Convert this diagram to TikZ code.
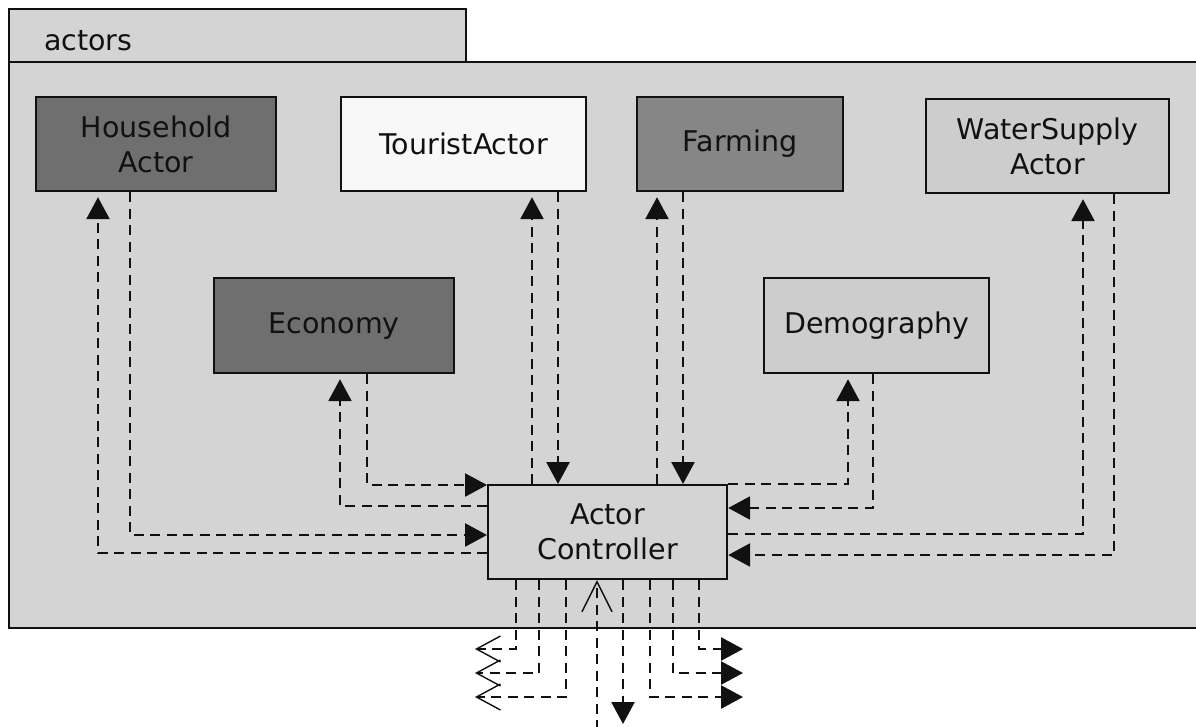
\documentclass[tikz,border=0pt]{standalone}
\usepackage{fontspec}
\setmainfont{DejaVu Sans}
\usetikzlibrary{arrows.meta}
\definecolor{panel}{HTML}{D4D4D4}
\definecolor{darkfill}{HTML}{6F6F6F}
\definecolor{midfill}{HTML}{868686}
\definecolor{lightfill}{HTML}{CDCDCD}
\definecolor{paper}{HTML}{F8F8F8}
\definecolor{ink}{HTML}{111111}
\tikzset{
  actorbox/.style={draw=ink, line width=2.2pt, anchor=north west, align=center,
    font=\fontsize{28.5}{35}\selectfont, text=ink, inner sep=0pt},
  flow/.style={draw=ink, line width=2.6pt, dash pattern=on 10pt off 6.5pt},
  tip/.style={flow, -{Triangle[length=22pt,width=23pt]}},
  opentip/.style={flow, -{Straight Barb[length=24pt,width=26pt,line width=1.4pt]}},
  gap/.style={shorten >=5pt}
}
\begin{document}
\begin{tikzpicture}[x=1pt,y=-1pt]
\clip (0,0) rectangle (1196,726);
\fill[white] (0,0) rectangle (1196,726);

% package frame with its tab
\draw[fill=panel, draw=ink, line width=2.2pt] (9,9) rectangle (466,62);
\node[anchor=west, font=\fontsize{28.5}{35}\selectfont, text=ink, inner sep=0pt] (tab) at (44,41) {actors};
\draw[fill=panel, draw=ink, line width=2.2pt] (9,62) rectangle (1200,628);

% actor boxes
\node[actorbox, fill=darkfill, minimum width=240pt, minimum height=94pt] (hh) at (35,96) {Household\\Actor};
\node[actorbox, fill=paper, minimum width=245pt, minimum height=94pt] (tour) at (340,96) {TouristActor};
\node[actorbox, fill=midfill, minimum width=206pt, minimum height=94pt] (farm) at (636,96) {Farming};
\node[actorbox, fill=lightfill, minimum width=243pt, minimum height=94pt] (water) at (925,98) {WaterSupply\\Actor};
\node[actorbox, fill=darkfill, minimum width=240pt, minimum height=95pt] (eco) at (213,277) {Economy};
\node[actorbox, fill=lightfill, minimum width=225pt, minimum height=95pt] (demo) at (763,277) {Demography};
\node[actorbox, fill=panel, minimum width=239pt, minimum height=94pt] (ctrl) at (487,484) {Actor\\Controller};

% left side links
\draw[tip] (hh.south -| 130,0) |- (ctrl.west |- 0,535);
\draw[tip, gap] (ctrl.west |- 0,553) -| (hh.south -| 98,0);
\draw[tip] (eco.south -| 367,0) |- (ctrl.west |- 0,485);
\draw[tip, gap] (ctrl.west |- 0,506) -| (eco.south -| 340,0);

% top links
\draw[tip, gap] (ctrl.north -| 532,0) -- (tour.south -| 532,0);
\draw[tip] (tour.south -| 558,0) -- (ctrl.north -| 558,0);
\draw[tip, gap] (ctrl.north -| 657,0) -- (farm.south -| 657,0);
\draw[tip] (farm.south -| 683,0) -- (ctrl.north -| 683,0);

% right side links
\draw[tip, gap] (ctrl.east |- 0,484) -| (demo.south -| 848,0);
\draw[tip] (demo.south -| 873,0) |- (ctrl.east |- 0,508);
\draw[tip, gap] (ctrl.east |- 0,534) -| (water.south -| 1083,0);
\draw[tip] (water.south -| 1114,0) |- (ctrl.east |- 0,555);

% outgoing links below the controller
\coordinate (outa) at (475,649);
\coordinate (outb) at (475,673);
\coordinate (outc) at (475,697);
\coordinate (inm) at (597,730);
\coordinate (outm) at (623,724);
\coordinate (outd) at (743,697);
\coordinate (oute) at (743,673);
\coordinate (outf) at (743,649);

\draw[opentip] (ctrl.south -| 516,0) |- (outa);
\draw[opentip] (ctrl.south -| 539,0) |- (outb);
\draw[opentip] (ctrl.south -| 566,0) |- (outc);
\draw[flow, -{Straight Barb[length=30pt,width=30pt,line width=1.4pt]}] (inm) -- (ctrl.south -| 597,0);
\draw[tip] (ctrl.south -| 623,0) -- (outm);
\draw[tip] (ctrl.south -| 650,0) |- (outd);
\draw[tip] (ctrl.south -| 673,0) |- (oute);
\draw[tip] (ctrl.south -| 699,0) |- (outf);
\end{tikzpicture}
\end{document}
